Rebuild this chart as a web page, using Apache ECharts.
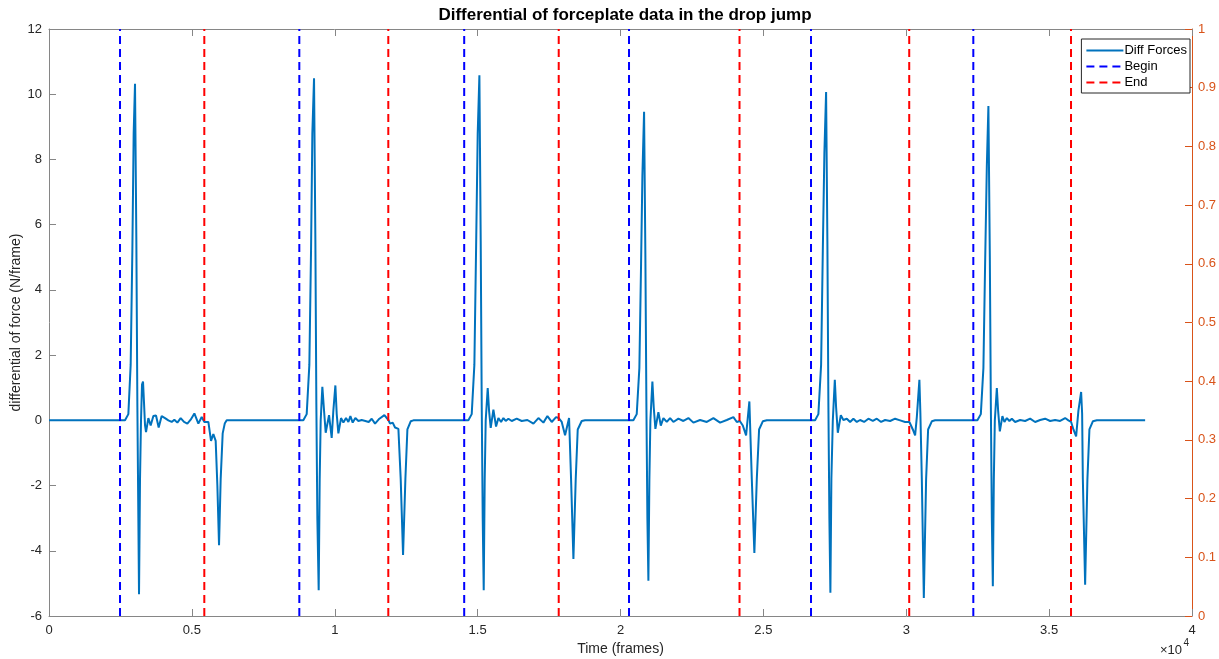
<!DOCTYPE html>
<html style="height: 100%">
<head>
    <meta charset="utf-8">
</head>
<body style="height: 100%; margin: 0; background: #fff">
<div id="container" style="width: 1219px; height: 659px"></div>
<script type="text/javascript" src="https://cdn.jsdelivr.net/npm/echarts@6/dist/echarts.min.js"></script>
<script type="text/javascript">
    // frames where each jump starts / ends
    var beginFrames = [2485, 8760, 14530, 20298, 26667, 32347];
    var endFrames = [5435, 11874, 17838, 24165, 30104, 35766];

    // diff force trace, [frame, N/frame], one array per jump
    var jump1 = [[2660, 0], [2777, 0.19], [2858, 1.7], [2917, 5.2], [2963, 8.8], [3010, 10.32], [3057, 5.5],
        [3092, 0.5], [3127, -3], [3150, -5.33], [3185, -1.8], [3220, 0], [3255, 1.1], [3290, 1.19], [3325, 0.54],
        [3360, -0.15], [3395, -0.36], [3477, 0.07], [3558, -0.16], [3652, 0.13], [3745, 0.15], [3838, -0.22],
        [3943, 0.13], [4060, 0.07], [4177, 0], [4293, -0.05], [4387, 0.02], [4492, -0.07], [4608, 0.07],
        [4725, -0.05], [4842, -0.1], [4958, 0.02], [5087, 0.21], [5227, -0.1], [5343, 0.1], [5437, -0.05],
        [5577, -0.05], [5670, -0.63], [5752, -0.42], [5833, -0.63], [5892, -2], [5950, -3.83], [6008, -1.8],
        [6078, -0.4], [6150, -0.1], [6218, 0]];
    var jump2 = [[8900, 0], [9018, 0.19], [9111, 1.7], [9170, 5.2], [9216, 8.8], [9275, 10.49], [9322, 5.5],
        [9356, 0.5], [9391, -3], [9438, -5.21], [9473, -1.8], [9508, 0], [9566, 1.03], [9625, 0.3], [9683, -0.38],
        [9800, 0.16], [9893, -0.54], [9951, 0.3], [10022, 1.07], [10068, 0.2], [10127, -0.4], [10220, 0.07],
        [10302, -0.07], [10395, 0.07], [10477, -0.05], [10547, 0.13], [10628, -0.07], [10722, 0.07], [10827, -0.02],
        [10943, 0.01], [11072, -0.02], [11188, -0.05], [11293, 0.05], [11410, -0.1], [11562, 0.05], [11737, 0.16],
        [11877, 0.01], [11935, -0.1], [12028, -0.07], [12110, -0.22], [12227, -0.26], [12308, -1.8], [12390, -4.13],
        [12472, -1.8], [12542, -0.28], [12658, -0.03], [12752, 0]];
    var jump3 = [[14676, 0], [14793, 0.19], [14886, 1.7], [14945, 5.2], [15003, 8.8], [15062, 10.58], [15108, 5.5],
        [15143, 0.5], [15178, -3], [15213, -5.21], [15248, -1.8], [15283, 0], [15353, 0.99], [15400, 0.3],
        [15458, -0.23], [15552, 0.33], [15645, -0.19], [15727, 0.07], [15820, -0.05], [15902, 0.07], [15983, -0.02],
        [16077, 0.05], [16193, -0.02], [16368, 0.05], [16543, -0.02], [16742, 0.01], [16952, -0.1], [17127, 0.07],
        [17302, -0.07], [17442, 0.13], [17593, -0.05], [17745, 0.1], [17838, 0.07], [17943, -0.05], [18060, -0.46],
        [18200, 0.07], [18270, -1.8], [18352, -4.25], [18433, -1.8], [18503, -0.28], [18643, -0.02], [18760, 0]];
    var jump4 = [[20450, 0], [20568, 0.19], [20660, 1.6], [20720, 4.8], [20766, 7.5], [20825, 9.46], [20871, 5],
        [20906, 0.5], [20941, -3], [20976, -4.92], [21011, -1.8], [21046, 0], [21116, 1.19], [21163, 0.4],
        [21221, -0.26], [21326, 0.25], [21410, -0.16], [21501, 0.07], [21620, -0.05], [21735, 0.07], [21851, -0.05],
        [22026, 0.05], [22201, -0.02], [22376, 0.07], [22551, -0.07], [22785, 0.01], [23020, -0.05], [23251, 0.07],
        [23485, -0.07], [23720, 0.01], [23951, 0.1], [24070, -0.05], [24175, -0.02], [24280, -0.16], [24395, -0.46],
        [24510, 0.58], [24595, -1.8], [24685, -4.07], [24770, -1.8], [24850, -0.28], [24980, -0.03], [25120, 0]];
    var jump5 = [[26810, 0], [26925, 0.19], [27020, 1.7], [27080, 5.2], [27135, 8.2], [27195, 10.07], [27240, 5.5],
        [27275, 0.5], [27310, -3], [27345, -5.29], [27380, -1.8], [27430, 0], [27500, 1.24], [27545, 0.4],
        [27605, -0.38], [27710, 0.16], [27800, 0.01], [27920, 0.05], [28035, -0.05], [28150, 0.05], [28270, -0.05],
        [28385, 0.01], [28525, -0.05], [28675, 0.05], [28830, -0.02], [28970, 0.05], [29120, -0.05], [29260, 0.01],
        [29435, -0.02], [29610, 0.05], [29785, 0], [29960, -0.05], [30110, -0.05], [30230, -0.28], [30310, -0.46],
        [30370, 0.1], [30460, 1.24], [30495, 0.2], [30545, -1.8], [30615, -5.45], [30695, -1.8], [30765, -0.28],
        [30895, -0.03], [31010, 0]];
    var jump6 = [[32490, 0], [32610, 0.19], [32700, 1.6], [32760, 4.8], [32820, 7.8], [32875, 9.64], [32925, 5],
        [32960, 0.5], [32995, -3], [33030, -5.09], [33065, -1.8], [33100, 0], [33170, 0.99], [33215, 0.3],
        [33275, -0.34], [33365, 0.13], [33435, -0.05], [33520, 0.07], [33610, -0.02], [33695, 0.05], [33810, -0.05],
        [33985, 0.01], [34160, -0.02], [34335, 0.05], [34510, -0.05], [34685, 0.01], [34860, 0.05], [35035, -0.02],
        [35210, 0.01], [35385, -0.02], [35560, 0.07], [35675, 0], [35770, -0.05], [35850, -0.28], [35945, -0.49],
        [36025, 0.3], [36120, 0.87], [36155, 0.2], [36180, -1.8], [36260, -5.04], [36340, -1.8], [36410, -0.28],
        [36530, -0.03], [36670, 0]];
    var traceStart = [0, 0];
    var traceEnd = [38360, 0];

    var forces = [traceStart].concat(jump1, jump2, jump3, jump4, jump5, jump6, [traceEnd]);

    // vertical lines from the bottom to the top of the left axis, broken with '-'
    function vlines(frames) {
        var out = [];
        frames.forEach(function (f) {
            out.push([f, -6], [f, 12], [f, '-']);
        });
        return out;
    }

    var dom = document.getElementById("container");
    var myChart = echarts.init(dom);
    var axisGray = '#868686';
    var textGray = '#262626';
    var orange = '#D95319';
    var font = 'Arial, "Liberation Sans", Helvetica, sans-serif';

    var option = {
        animation: false,
        backgroundColor: '#fff',
        textStyle: {fontFamily: font},
        title: {
            text: 'Differential of forceplate data in the drop jump',
            left: 620,
            textAlign: 'center',
            top: 2,
            textStyle: {fontSize: 17, fontWeight: 'bold', color: '#000', fontFamily: font}
        },
        grid: {left: 49, right: 27, top: 29, bottom: 43, outerBoundsMode: 'none', containLabel: false},
        legend: {
            right: 29,
            top: 39,
            orient: 'vertical',
            backgroundColor: '#fff',
            borderColor: '#262626',
            borderWidth: 1,
            borderRadius: 0,
            padding: [5, 3, 4, 4],
            itemGap: 3,
            itemWidth: 37,
            itemHeight: 13,
            itemStyle: {opacity: 0},
            textStyle: {fontSize: 13, color: '#000', fontFamily: font, padding: [0, 0, 0, -4]},
            data: ['Diff Forces', 'Begin', 'End']
        },
        graphic: [{
            type: 'text',
            right: 37,
            top: 644,
            style: {text: '×10', fill: textGray, font: '13px ' + font}
        }, {
            type: 'text',
            right: 30,
            top: 638,
            style: {text: '4', fill: textGray, font: '10px ' + font}
        }],
        xAxis: [{
            type: 'value',
            min: 0,
            max: 40000,
            interval: 5000,
            name: 'Time (frames)',
            nameLocation: 'middle',
            nameGap: 26,
            nameMoveOverlap: false,
            nameTextStyle: {fontSize: 14, color: textGray},
            axisLine: {onZero: false, lineStyle: {color: axisGray}},
            axisTick: {inside: true, length: 7, lineStyle: {color: axisGray}},
            axisLabel: {
                fontSize: 13, color: textGray, margin: 8,
                formatter: function (v) { return String(v / 10000); }
            },
            splitLine: {show: false}
        }, {
            type: 'value',
            position: 'top',
            min: 0,
            max: 40000,
            interval: 5000,
            axisLine: {onZero: false, lineStyle: {color: axisGray}},
            axisTick: {inside: true, length: 7, lineStyle: {color: axisGray}},
            axisLabel: {show: false},
            splitLine: {show: false}
        }],
        yAxis: [{
            type: 'value',
            min: -6,
            max: 12,
            interval: 2,
            name: 'differential of force (N/frame)',
            nameLocation: 'middle',
            nameGap: 26,
            nameMoveOverlap: false,
            nameTextStyle: {fontSize: 14, color: textGray},
            axisLine: {show: true, onZero: false, lineStyle: {color: axisGray}},
            axisTick: {show: true, inside: true, length: 7, lineStyle: {color: axisGray}},
            axisLabel: {fontSize: 13, color: textGray, margin: 7},
            splitLine: {show: false}
        }, {
            type: 'value',
            position: 'right',
            min: 0,
            max: 1,
            interval: 0.1,
            axisLine: {show: true, onZero: false, lineStyle: {color: orange}},
            axisTick: {show: true, inside: true, length: 7, lineStyle: {color: orange}},
            axisLabel: {
                fontSize: 13, color: orange, margin: 6,
                formatter: function (v) { return String(Math.round(v * 10) / 10); }
            },
            splitLine: {show: false}
        }],
        series: [{
            name: 'Diff Forces',
            type: 'line',
            data: forces,
            symbol: 'none',
            lineStyle: {color: '#0072BD', width: 2},
            itemStyle: {color: '#0072BD'},
            z: 3
        }, {
            name: 'Begin',
            type: 'line',
            data: vlines(beginFrames),
            symbol: 'none',
            connectNulls: false,
            lineStyle: {color: '#0000FF', width: 2, type: [8, 5]},
            itemStyle: {color: '#0000FF'},
            z: 4
        }, {
            name: 'End',
            type: 'line',
            data: vlines(endFrames),
            symbol: 'none',
            connectNulls: false,
            lineStyle: {color: '#FF0000', width: 2, type: [8, 5]},
            itemStyle: {color: '#FF0000'},
            z: 4
        }]
    };

    if (option && typeof option === "object") {
        myChart.setOption(option, true);
    }
</script>
</body>
</html>
